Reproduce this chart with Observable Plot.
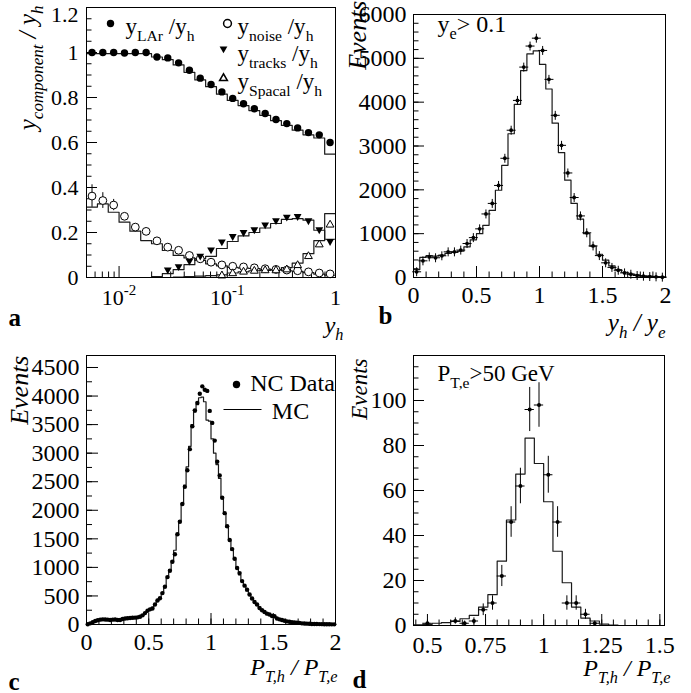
<!DOCTYPE html>
<html><head><meta charset="utf-8">
<script src="https://cdn.jsdelivr.net/npm/d3@7"></script>
<script src="https://cdn.jsdelivr.net/npm/@observablehq/plot@0.6"></script>
<style>
body{margin:0;background:#fff;}
#fig{position:relative;width:691px;height:693px;overflow:hidden;background:#fff;}
.panel{position:absolute;}
.panel svg{overflow:visible;}
</style></head><body><div id="fig"></div>
<script>
// ---------- Panel a : y_component / y_h vs y_h (log bins, 0.1 decade) ----------
const aLogStart = -2.3, aLogStep = 0.1;
const aLAr    = [1.0,1.0,1.0,0.998,1.0,1.0,0.98,0.976,0.954,0.921,0.886,0.858,0.825,0.796,0.772,0.75,0.729,0.702,0.684,0.665,0.644,0.634,0.6];
const aLArMC  = [0.995,0.995,0.995,0.995,0.995,0.995,0.98,0.968,0.945,0.912,0.878,0.848,0.815,0.787,0.764,0.742,0.721,0.697,0.676,0.655,0.634,0.62,0.548];
const aNoise  = [0.362,0.342,0.322,0.272,0.224,0.205,0.163,0.135,0.121,0.098,0.083,0.068,0.056,0.05,0.047,0.043,0.039,0.036,0.033,0.03,0.025,0.02,0.016];
const aNoiseErr = [0.05,0.035,0.025,0.012,0.01,0.008,0.007,0.006,0.005,0.004,0.004,0.003,0.003,0.003,0.003,0.003,0.003,0.003,0.003,0.003,0.003,0.003,0.003];
const aNoiseMC = [0.313,0.327,0.29,0.246,0.206,0.164,0.15,0.12,0.098,0.087,0.076,0.061,0.052,0.045,0.042,0.04,0.037,0.034,0.03,0.027,0.022,0.015,0.01];
const aTracks = [null,null,null,null,null,null,null,0.031,0.045,0.07,0.092,0.12,0.155,0.179,0.197,0.209,0.231,0.25,0.265,0.268,0.249,0.209,0.157];
const aTracksMC = [0,0,0,0,0,0,0.004,0.017,0.035,0.057,0.084,0.094,0.129,0.16,0.185,0.2,0.22,0.24,0.258,0.262,0.255,0.21,0.17];
const aSpacal = [null,null,null,null,null,null,null,null,null,null,null,null,0.012,0.022,0.029,0.033,0.035,0.035,0.039,0.058,0.098,0.15,0.238];
const aSpacalMC = [0,0,0,0,0,0,0,0,0.002,0.004,0.006,0.008,0.012,0.02,0.025,0.03,0.032,0.035,0.044,0.064,0.106,0.164,0.284];
const aXTicks = [0.01, 0.1, 1];
const aXTickLabels = ["10^{-2}", "10^{-1}", "1"];
const aYTicks = [0, 0.2, 0.4, 0.6, 0.8, 1];
const aYTopTick = [1.2];

// ---------- Panel b : y_h / y_e (bins 0.05) ----------
const bBinStart = 0, bBinWidth = 0.05;
const bData = [130,380,470,450,495,585,585,625,775,910,1110,1450,1690,2100,2720,3360,4040,4800,5280,5460,5180,4520,3700,3015,2385,1825,1405,1020,720,500,335,230,165,105,75,45,30,22,15,8];
const bMC   = [180,460,500,490,510,550,570,600,700,860,1000,1190,1530,1990,2560,3280,3950,4720,5100,5170,4860,4300,3520,2850,2220,1690,1330,1000,715,530,395,265,180,120,80,60,40,30,20,15];
const bXTicks = [0, 0.5, 1, 1.5, 2];
const bYTicks = [0, 1000, 2000, 3000, 4000, 5000, 6000];

// ---------- Panel c : P_T,h / P_T,e (bins 0.02) ----------
const cBinStart = 0, cBinWidth = 0.02;
const cData = [5,20,40,60,75,85,90,88,85,80,85,88,80,78,95,105,110,115,118,120,125,135,160,200,240,265,280,350,420,460,550,660,830,940,1100,1230,1580,1800,2110,2410,2700,3070,3470,3750,3880,4040,4170,4110,4090,3740,3530,3220,2850,2610,2220,1950,1720,1480,1320,1150,990,900,760,680,610,525,455,395,350,290,250,220,190,175,150,145,105,90,80,65,55,48,40,35,30,28,20,17,15,12,10,9,8,7,6,5,5,4,3,3];
const cMC   = [5,25,45,65,80,90,95,95,92,90,90,90,92,95,100,105,110,115,120,125,135,145,170,205,240,270,300,350,410,470,560,670,820,960,1120,1300,1560,1820,2120,2440,2760,3120,3500,3720,3850,3970,3980,3900,3580,3560,3250,3000,2800,2560,2220,1940,1700,1480,1300,1140,980,870,760,670,590,510,440,385,335,290,250,215,185,165,145,125,105,90,78,65,55,47,40,34,29,25,21,18,15,13,11,9,8,7,6,5,4,4,3,3];
const cXTicks = [0, 0.5, 1, 1.5, 2];
const cYTicks = [0,500,1000,1500,2000,2500,3000,3500,4000,4500];

// ---------- Panel d : P_T,h / P_T,e, P_T,e > 50 GeV (bins 0.04) ----------
const dBinStart = 0.44, dBinWidth = 0.04;
const dMC = [0.3,0.5,1,1.3,1.8,3,4.5,8.2,13.7,28.6,46.9,67.3,83.3,72,55,33,19,8.2,3.3,2,0.6,0.2,0,0,0,0,0];
const dCenters = [0.50,0.62,0.66,0.70,0.74,0.78,0.82,0.86,0.90,0.94,0.98,1.02,1.06,1.10,1.14,1.18,1.22];
const dData = [1,2,1,2,7,10,22,46,62,96,98,67,46,10,10,5,1];
const dErr  = [1,1.4,1,1.4,2.6,3.2,4.7,6.8,7.9,9.8,9.9,8.2,6.8,3.2,3.2,2.2,1];
const dXTicks = [0.5, 0.75, 1, 1.25, 1.5];
const dYTicks = [0, 20, 40, 60, 80, 100];

// ---------- helpers ----------
const FONT = "'Liberation Serif', 'Times New Roman', serif";
const triDown = {draw(c,s){const r=Math.sqrt(s/Math.PI); c.moveTo(-r,-0.8*r); c.lineTo(r,-0.8*r); c.lineTo(0,0.95*r); c.closePath();}};
const triUp   = {draw(c,s){const r=Math.sqrt(s/Math.PI); c.moveTo(-r,0.8*r); c.lineTo(r,0.8*r); c.lineTo(0,-0.95*r); c.closePath();}};
const hLine   = {draw(c,s){const r=Math.sqrt(s/Math.PI); c.moveTo(-r,0); c.lineTo(r,0);}};

function steps(edges, vals){
  const pts = vals.map((v,i)=>({x: edges[i], y: v}));
  pts.push({x: edges[vals.length], y: vals[vals.length-1]});
  return pts;
}
function linEdges(start, w, n){ return d3.range(n+1).map(i => start + w*i); }
function inTicksX(vals, len, ph){ return Plot.tickX(vals, {x: d=>d, insetTop: ph-len, stroke:"black", strokeWidth:1}); }
function inTicksY(vals, len, pw){ return Plot.tickY(vals, {y: d=>d, insetRight: pw-len, stroke:"black", strokeWidth:1}); }
function label(txt, o){ return Plot.text([txt], {text: d=>d, ...o}); }

function richify(svg){
  svg.querySelectorAll("text").forEach(t=>{
    const s = t.textContent;
    if(!/[_^]\{/.test(s)) return;
    const fs = parseFloat(getComputedStyle(t).fontSize) || 20;
    while(t.firstChild) t.removeChild(t.firstChild);
    const re = /([_^])\{([^}]*)\}|([^_^]+)/g; let m, off = 0;
    while((m = re.exec(s))){
      const ts = document.createElementNS("http://www.w3.org/2000/svg","tspan");
      let target, txt;
      if(m[3] !== undefined){ txt = m[3]; target = 0; }
      else { txt = m[2]; target = m[1]==="_" ? 0.3*fs : -0.45*fs; ts.setAttribute("font-size", (0.68*fs)+"px"); }
      ts.setAttribute("dy", (target-off).toFixed(2)); off = target;
      ts.textContent = txt; t.appendChild(ts);
    }
  });
}
const fig = document.getElementById("fig");
function place(plot, left, top){
  const div = document.createElement("div"); div.className = "panel";
  div.style.left = left+"px"; div.style.top = top+"px";
  div.appendChild(plot); fig.appendChild(div); richify(plot);
}
const histStroke = {stroke:"#1a1a1a", strokeWidth:1.2};

// ---------- Panel a ----------
{
  const W=345,H=345,mL=86,mR=10,mT=7,mB=68, pw=W-mL-mR, ph=H-mT-mB;
  const edges = d3.range(aLAr.length+1).map(i => Math.pow(10, aLogStart + aLogStep*i));
  const cen = aLAr.map((_,i) => Math.pow(10, aLogStart + aLogStep*(i+0.5)));
  const pts = (arr) => arr.map((v,i)=>({x:cen[i], y:v, e:aNoiseErr[i]})).filter(d=>d.y!=null);
  const minorX = [];
  for (const e of [-3,-2,-1]) for (let k=2;k<=9;k++){ const v=k*Math.pow(10,e); if(v>=0.005 && v<1) minorX.push(v); }
  const minorY = d3.range(0, 1.2001, 0.05);
  const p = Plot.plot({
    width:W, height:H, marginLeft:mL, marginRight:mR, marginTop:mT, marginBottom:mB,
    style:{fontFamily:FONT, fontSize:"22px", background:"white", color:"black", overflow:"visible"},
    x:{type:"log", domain:[0.005,1]}, y:{domain:[0,1.2]},
    marks:[
      inTicksX(minorX, 5.5, ph), inTicksX(aXTicks, 11, ph),
      inTicksY(minorY, 5.5, pw), inTicksY(aYTicks.concat(aYTopTick), 11, pw),
      Plot.line(steps(edges, aLArMC), {x:"x", y:"y", curve:"step-after", ...histStroke}),
      Plot.line(steps(edges, aNoiseMC), {x:"x", y:"y", curve:"step-after", ...histStroke}),
      Plot.line(steps(edges, aTracksMC), {x:"x", y:"y", curve:"step-after", ...histStroke}),
      Plot.line(steps(edges, aSpacalMC), {x:"x", y:"y", curve:"step-after", ...histStroke}),
      Plot.ruleX(pts(aNoise), {x:"x", y1:d=>d.y-d.e, y2:d=>d.y+d.e, stroke:"black", clip:true}),
      Plot.dot(pts(aLAr), {x:"x", y:"y", r:3.7, fill:"black", stroke:"none"}),
      Plot.dot(pts(aNoise), {x:"x", y:"y", r:3.9, fill:"white", stroke:"black", strokeWidth:1}),
      Plot.dot(pts(aTracks), {x:"x", y:"y", r:3.9, symbol:triDown, fill:"black", stroke:"none"}),
      Plot.dot(pts(aSpacal), {x:"x", y:"y", r:3.9, symbol:triUp, fill:"white", stroke:"black", strokeWidth:1}),
      Plot.frame({stroke:"black", strokeWidth:1}),
      Plot.axisX({ticks:aXTicks, tickFormat:(d)=>aXTickLabels[aXTicks.indexOf(d)], tickSize:0, tickPadding:12, label:null}),
      Plot.axisY({ticks:aYTicks, tickFormat:d=>String(+d.toFixed(1)), tickSize:0, tickPadding:8, label:null}),
      Plot.axisY({ticks:aYTopTick, tickFormat:d=>String(d), tickSize:0, tickPadding:8, dy:7, label:null}),
      // legend
      Plot.dot([0], {frameAnchor:"top-left", dx:24, dy:16, r:3.7, fill:"black", stroke:"none"}),
      label("y_{LAr} /y_{h}", {frameAnchor:"top-left", dx:39, dy:19, textAnchor:"start", lineAnchor:"middle", fontSize:23}),
      Plot.dot([0], {frameAnchor:"top-left", dx:141, dy:16, r:3.9, fill:"white", stroke:"black"}),
      label("y_{noise} /y_{h}", {frameAnchor:"top-left", dx:151, dy:19, textAnchor:"start", lineAnchor:"middle", fontSize:23}),
      Plot.dot([0], {frameAnchor:"top-left", dx:137, dy:42, r:3.9, symbol:triDown, fill:"black", stroke:"none"}),
      label("y_{tracks} /y_{h}", {frameAnchor:"top-left", dx:151, dy:46, textAnchor:"start", lineAnchor:"middle", fontSize:23}),
      Plot.dot([0], {frameAnchor:"top-left", dx:137, dy:70, r:3.9, symbol:triUp, fill:"white", stroke:"black"}),
      label("y_{Spacal} /y_{h}", {frameAnchor:"top-left", dx:151, dy:74, textAnchor:"start", lineAnchor:"middle", fontSize:23}),
      // axis titles
      label("y_{component} / y_{h}", {frameAnchor:"top-left", dx:-59, dy:-2, rotate:-90, textAnchor:"end", lineAnchor:"middle", fontSize:25, fontStyle:"italic"}),
      label("y_{h}", {frameAnchor:"bottom-right", dx:8, dy:48, textAnchor:"end", lineAnchor:"middle", fontSize:24, fontStyle:"italic"}),
      label("a", {frameAnchor:"bottom-left", dx:-78, dy:40, textAnchor:"start", lineAnchor:"middle", fontSize:25, fontWeight:"bold"})
    ]
  });
  place(p, 0, 0);
}

// ---------- Panel b ----------
{
  const W=346,H=345,mL=68,mR=26,mT=14,mB=68, pw=W-mL-mR, ph=H-mT-mB;
  const edges = linEdges(bBinStart, bBinWidth, bMC.length);
  const pts = bData.map((v,i)=>({x: bBinStart + bBinWidth*(i+0.5), y:v}));
  const p = Plot.plot({
    width:W, height:H, marginLeft:mL, marginRight:mR, marginTop:mT, marginBottom:mB,
    style:{fontFamily:FONT, fontSize:"24px", background:"white", color:"black", overflow:"visible"},
    x:{domain:[0,2]}, y:{domain:[0,6000]},
    marks:[
      inTicksX(d3.range(0,2.001,0.1), 5.5, ph), inTicksX(bXTicks, 11, ph),
      inTicksY(d3.range(0,6001,200), 5.5, pw), inTicksY(bYTicks, 11, pw),
      Plot.line(steps(edges, bMC), {x:"x", y:"y", curve:"step-after", ...histStroke}),
      Plot.dot(pts, {x:"x", y:"y", r:3, symbol:"plus", stroke:"black", strokeWidth:1}),
      Plot.dot(pts, {x:"x", y:"y", r:1.9, fill:"black", stroke:"none"}),
      Plot.frame({stroke:"black", strokeWidth:1}),
      Plot.axisX({ticks:bXTicks, tickFormat:d=>String(d), tickSize:0, tickPadding:8, label:null}),
      Plot.axisY({ticks:bYTicks, tickFormat:d=>String(d), tickSize:0, tickPadding:7, label:null}),
      label("y_{e}> 0.1", {frameAnchor:"top-left", dx:24, dy:10, textAnchor:"start", lineAnchor:"middle", fontSize:24}),
      label("Events", {frameAnchor:"top-left", dx:-56, dy:-14, rotate:-90, textAnchor:"end", lineAnchor:"middle", fontSize:26, fontStyle:"italic"}),
      label("y_{h} / y_{e}", {frameAnchor:"bottom-right", dx:0, dy:45, textAnchor:"end", lineAnchor:"middle", fontSize:25, fontStyle:"italic"}),
      label("b", {frameAnchor:"bottom-left", dx:-35, dy:38, textAnchor:"start", lineAnchor:"middle", fontSize:25, fontWeight:"bold"})
    ]
  });
  place(p, 345, 0);
}

// ---------- Panel c ----------
{
  const W=345,H=348,mL=86,mR=10,mT=10,mB=69, pw=W-mL-mR, ph=H-mT-mB;
  const edges = linEdges(cBinStart, cBinWidth, cMC.length);
  const pts = cData.map((v,i)=>({x: cBinStart + cBinWidth*(i+0.5), y:v}));
  const p = Plot.plot({
    width:W, height:H, marginLeft:mL, marginRight:mR, marginTop:mT, marginBottom:mB,
    style:{fontFamily:FONT, fontSize:"24px", background:"white", color:"black", overflow:"visible"},
    x:{domain:[0,2]}, y:{domain:[0,4710]},
    marks:[
      inTicksX(d3.range(0,2.001,0.1), 5.5, ph), inTicksX(cXTicks, 11, ph),
      inTicksY(d3.range(0,4701,250), 6, pw), inTicksY(cYTicks, 12, pw),
      Plot.line(steps(edges, cMC), {x:"x", y:"y", curve:"step-after", ...histStroke}),
      Plot.dot(pts, {x:"x", y:"y", r:2.2, fill:"black", stroke:"none"}),
      Plot.frame({stroke:"black", strokeWidth:1}),
      Plot.axisX({ticks:cXTicks, tickFormat:d=>String(d), tickSize:0, tickPadding:8, label:null}),
      Plot.axisY({ticks:cYTicks, tickFormat:d=>String(d), tickSize:0, tickPadding:7, label:null}),
      Plot.dot([0], {frameAnchor:"top-left", dx:150, dy:29, r:3.7, fill:"black", stroke:"none"}),
      label("NC Data", {frameAnchor:"top-left", dx:206, dy:28, textAnchor:"middle", lineAnchor:"middle", fontSize:24}),
      Plot.dot([0], {frameAnchor:"top-left", dx:156, dy:54, r:19, symbol:hLine, fill:"none", stroke:"black", strokeWidth:1}),
      label("MC", {frameAnchor:"top-left", dx:204, dy:56, textAnchor:"middle", lineAnchor:"middle", fontSize:24}),
      label("Events", {frameAnchor:"top-left", dx:-67, dy:0, rotate:-90, textAnchor:"end", lineAnchor:"middle", fontSize:26, fontStyle:"italic"}),
      label("P_{T,h} / P_{T,e}", {frameAnchor:"bottom-right", dx:2, dy:43, textAnchor:"end", lineAnchor:"middle", fontSize:24, fontStyle:"italic"}),
      label("c", {frameAnchor:"bottom-left", dx:-78, dy:57, textAnchor:"start", lineAnchor:"middle", fontSize:25, fontWeight:"bold"})
    ]
  });
  place(p, 0, 345);
}

// ---------- Panel d ----------
{
  const W=346,H=348,mL=68,mR=27,mT=10,mB=68, pw=W-mL-mR, ph=H-mT-mB;
  const edges = linEdges(dBinStart, dBinWidth, dMC.length);
  const pts = dData.map((v,i)=>({x: dCenters[i], y:v, e:dErr[i]}));
  const p = Plot.plot({
    width:W, height:H, marginLeft:mL, marginRight:mR, marginTop:mT, marginBottom:mB,
    style:{fontFamily:FONT, fontSize:"24px", background:"white", color:"black", overflow:"visible"},
    x:{domain:[0.44,1.52]}, y:{domain:[0,120]},
    marks:[
      inTicksX(d3.range(0.45,1.5001,0.05), 5.5, ph), inTicksX(dXTicks, 11, ph),
      inTicksY(d3.range(0,120.01,5), 5.5, pw), inTicksY(dYTicks, 11, pw),
      Plot.line(steps(edges, dMC), {x:"x", y:"y", curve:"step-after", ...histStroke}),
      Plot.ruleX(pts, {x:"x", y1:d=>d.y-d.e, y2:d=>d.y+d.e, stroke:"black", strokeWidth:1}),
      Plot.ruleY(pts, {y:"y", x1:d=>d.x-dBinWidth/2, x2:d=>d.x+dBinWidth/2, stroke:"black", strokeWidth:1}),
      Plot.dot(pts, {x:"x", y:"y", r:2, fill:"black", stroke:"none"}),
      Plot.frame({stroke:"black", strokeWidth:1}),
      Plot.axisX({ticks:dXTicks, tickFormat:d=>String(d), tickSize:0, tickPadding:10, label:null}),
      Plot.axisY({ticks:dYTicks, tickFormat:d=>String(d), tickSize:0, tickPadding:7, label:null}),
      label("P_{T,e}>50 GeV", {frameAnchor:"top-left", dx:24, dy:18, textAnchor:"start", lineAnchor:"middle", fontSize:23}),
      label("Events", {frameAnchor:"top-left", dx:-54, dy:3, rotate:-90, textAnchor:"end", lineAnchor:"middle", fontSize:23, fontStyle:"italic"}),
      label("P_{T,h} / P_{T,e}", {frameAnchor:"bottom-right", dx:6, dy:43, textAnchor:"end", lineAnchor:"middle", fontSize:24, fontStyle:"italic"}),
      label("d", {frameAnchor:"bottom-left", dx:-61, dy:54, textAnchor:"start", lineAnchor:"middle", fontSize:25, fontWeight:"bold"})
    ]
  });
  place(p, 345, 345);
}
</script></body></html>
